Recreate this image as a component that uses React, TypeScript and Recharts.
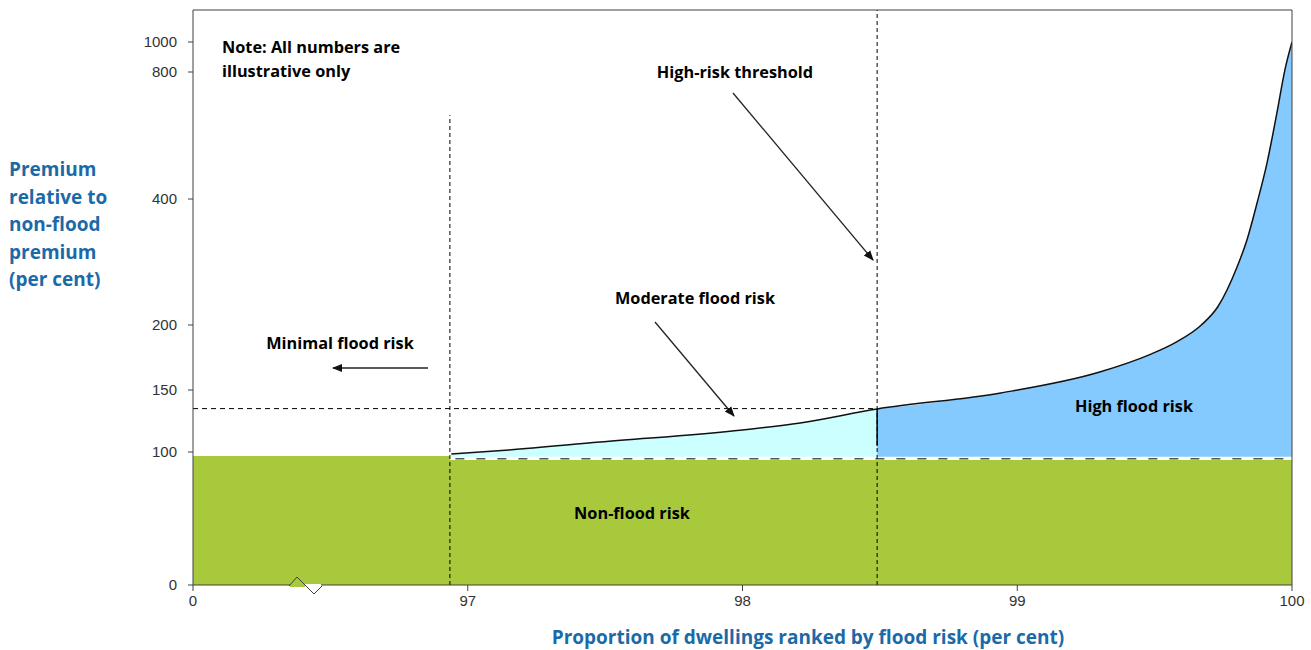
import { Area, ComposedChart, Line, ReferenceLine, XAxis, YAxis } from "recharts";

// x axis is broken: the "0" tick sits where 96 would be
const xTicks = [96, 97, 98, 99, 100];
const xTickLabels = ["0", "97", "98", "99", "100"];

// premium axis is uneven: height (above the x axis) at which each tick sits
const yTickValues = [0, 100, 150, 200, 400, 800, 1000];
const yTickHeights = [0, 133, 195, 260, 386, 513, 543];
const PLOT_HEIGHT = 575;

const nonFloodX = [96, 96.935, 96.935, 100];
const nonFloodPremium = [97, 97, 94, 94];

const curveX = [
  96.94, 97.15, 97.48, 98.0, 98.21, 98.49, 98.94, 99.3, 99.48, 99.58, 99.67, 99.73, 99.8,
  99.836, 99.873, 99.909, 99.945, 99.974, 100,
];
const curvePremium = [
  98.5, 101.6, 108, 117.7, 123.4, 134.7, 147.6, 163.8, 177, 187, 200, 229, 292, 335, 394,
  513, 671, 813, 1000,
];

const MINIMAL_EDGE_X = 96.935;
const THRESHOLD_X = 98.49;
const THRESHOLD_PREMIUM = 135;
const BAND_FLOOR = 96.5;
const NON_FLOOD_LINE = 95;

const BLUE = "#1b6aa8";
const AXIS = "#404040";
const NOTE_FONT = "'Open Sans', Lato, sans-serif";
const TICK_FONT = "'Liberation Sans Narrow', 'Arial Narrow', 'Liberation Sans', sans-serif";

function toPos(v: number) {
  const n = yTickValues.length;
  for (let i = 1; i < n; i++) {
    if (v <= yTickValues[i] || i === n - 1) {
      const v0 = yTickValues[i - 1];
      const v1 = yTickValues[i];
      const h0 = yTickHeights[i - 1];
      const h1 = yTickHeights[i];
      return h0 + ((v - v0) / (v1 - v0)) * (h1 - h0);
    }
  }
  return 0;
}

const yTicks = yTickValues.map(toPos);

type Row = {
  x: number;
  green?: number;
  curve?: number;
  moderate?: number[];
  high?: number[];
};

const rows: Row[] = [
  ...nonFloodX.map((x, i) => ({ x, green: toPos(nonFloodPremium[i]) })),
  ...curveX.map((x, i) => ({
    x,
    curve: toPos(curvePremium[i]),
    moderate: x <= THRESHOLD_X ? [toPos(BAND_FLOOR), toPos(curvePremium[i])] : undefined,
    high: x >= THRESHOLD_X ? [toPos(BAND_FLOOR), toPos(curvePremium[i])] : undefined,
  })),
].sort((a, b) => a.x - b.x);

const tickStyle = { fill: "#333", fontSize: 15, fontFamily: TICK_FONT };

function Arrow({ x1, y1, x2, y2 }: { x1: number; y1: number; x2: number; y2: number }) {
  return <line x1={x1} y1={y1} x2={x2} y2={y2} stroke="#222" strokeWidth={1.3} markerEnd="url(#head)" />;
}

export default function App() {
  const noteText = { fontFamily: NOTE_FONT, fontWeight: 700, fontSize: 16.3, fill: "#000" };
  const axisText = { fontFamily: NOTE_FONT, fontWeight: 700, fontSize: 19, fill: BLUE };
  return (
    <div style={{ position: "relative", width: 1311, height: 650, background: "#fff" }}>
      <style>{"body{margin:0}"}</style>
      <ComposedChart
        width={1311}
        height={650}
        data={rows}
        margin={{ top: 10, right: 19, bottom: 0, left: 0 }}
      >
        <XAxis
          dataKey="x"
          type="number"
          domain={[96, 100]}
          ticks={xTicks}
          tickFormatter={(v) => xTickLabels[xTicks.indexOf(v)] ?? ""}
          height={65}
          tickSize={6}
          tickMargin={4}
          tick={tickStyle}
          stroke={AXIS}
          allowDataOverflow
        />
        <YAxis
          type="number"
          domain={[0, PLOT_HEIGHT]}
          ticks={yTicks}
          tickFormatter={(v) => String(yTickValues[yTicks.indexOf(v)] ?? "")}
          width={193}
          tickSize={5}
          tickMargin={11}
          tick={tickStyle}
          stroke={AXIS}
          interval={0}
          allowDataOverflow
        />
        <Area
          dataKey="green"
          type="linear"
          fill="#a9c93c"
          fillOpacity={1}
          stroke="none"
          connectNulls
          isAnimationActive={false}
        />
        <Area
          dataKey="moderate"
          type="monotone"
          fill="#ccffff"
          fillOpacity={1}
          stroke="none"
          connectNulls
          isAnimationActive={false}
        />
        <Area
          dataKey="high"
          type="monotone"
          fill="#85caff"
          fillOpacity={1}
          stroke="none"
          connectNulls
          isAnimationActive={false}
        />
        <Line
          dataKey="curve"
          type="monotone"
          stroke="#111"
          strokeWidth={1.5}
          dot={false}
          activeDot={false}
          connectNulls
          isAnimationActive={false}
        />
        <ReferenceLine
          segment={[
            { x: 96, y: toPos(THRESHOLD_PREMIUM) },
            { x: THRESHOLD_X, y: toPos(THRESHOLD_PREMIUM) },
          ]}
          stroke="#000"
          strokeDasharray="5 4"
        />
        <ReferenceLine
          segment={[
            { x: MINIMAL_EDGE_X + 0.02, y: toPos(NON_FLOOD_LINE) },
            { x: 100, y: toPos(NON_FLOOD_LINE) },
          ]}
          stroke="#555"
          strokeWidth={1.5}
          strokeDasharray="9 12"
        />
        <ReferenceLine
          segment={[
            { x: MINIMAL_EDGE_X, y: 0 },
            { x: MINIMAL_EDGE_X, y: toPos(664) },
          ]}
          stroke="#000"
          strokeDasharray="4 3"
        />
        <ReferenceLine x={THRESHOLD_X} stroke="#000" strokeDasharray="4 3" />
        <ReferenceLine
          segment={[
            { x: THRESHOLD_X, y: toPos(105) },
            { x: THRESHOLD_X, y: toPos(134.7) },
          ]}
          stroke="#000"
          strokeWidth={1.5}
        />
        <ReferenceLine y={PLOT_HEIGHT} stroke={AXIS} />
        <ReferenceLine x={100} stroke={AXIS} />
      </ComposedChart>

      <svg
        width={1311}
        height={650}
        style={{ position: "absolute", left: 0, top: 0, pointerEvents: "none" }}
      >
        <defs>
          <marker id="head" viewBox="0 0 10 10" refX="9" refY="5" markerWidth="8" markerHeight="8" orient="auto">
            <path d="M0,1 L10,5 L0,9 z" fill="#111" />
          </marker>
        </defs>

        {/* axis break */}
        <rect x={290} y={584} width={15} height={3} fill="#a9c93c" />
        <rect x={305} y={584} width={16} height={3} fill="#fff" />
        <polyline points="289,586 297,577 314,594 322,586" fill="none" stroke={AXIS} strokeWidth={1} />

        <text x={222} y={47} dominantBaseline="central" style={noteText}>
          Note: All numbers are
        </text>
        <text x={222} y={71} dominantBaseline="central" style={noteText}>
          illustrative only
        </text>
        <text x={735} y={72} textAnchor="middle" dominantBaseline="central" style={noteText}>
          High-risk threshold
        </text>
        <text x={695} y={298} textAnchor="middle" dominantBaseline="central" style={noteText}>
          Moderate flood risk
        </text>
        <text x={340} y={343} textAnchor="middle" dominantBaseline="central" style={noteText}>
          Minimal flood risk
        </text>
        <text x={632} y={513} textAnchor="middle" dominantBaseline="central" style={noteText}>
          Non-flood risk
        </text>
        <text x={1134} y={406} textAnchor="middle" dominantBaseline="central" style={noteText}>
          High flood risk
        </text>

        <Arrow x1={428} y1={368} x2={333} y2={368} />
        <Arrow x1={655} y1={322} x2={734} y2={416} />
        <Arrow x1={733} y1={93} x2={873} y2={260} />

        {["Premium", "relative to", "non-flood", "premium", "(per cent)"].map((t, i) => (
          <text key={t} x={9} y={169 + i * 27.5} dominantBaseline="central" style={axisText}>
            {t}
          </text>
        ))}
        <text x={808} y={637} textAnchor="middle" dominantBaseline="central" style={axisText}>
          Proportion of dwellings ranked by flood risk (per cent)
        </text>
      </svg>
    </div>
  );
}
